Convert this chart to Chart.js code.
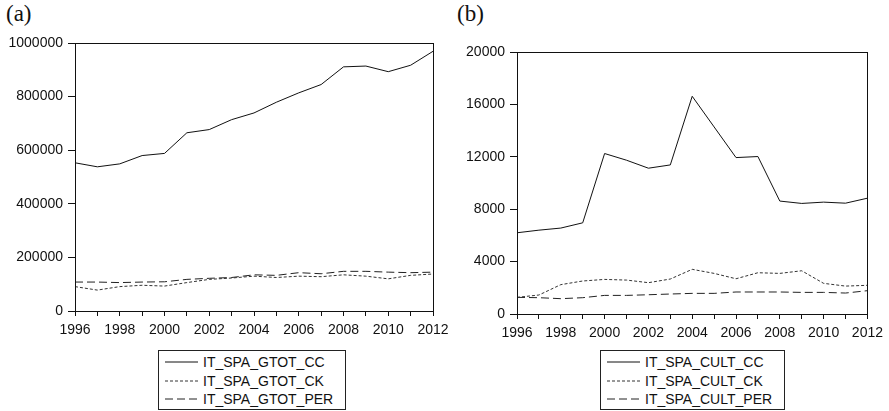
<!DOCTYPE html>
<html>
<head>
<meta charset="utf-8">
<script src="https://cdn.jsdelivr.net/npm/chart.js@4.4.0/dist/chart.umd.min.js"></script>
<style>
  body { margin: 0; background: #fff; width: 889px; height: 411px; overflow: hidden; position: relative; }
  .panel { position: absolute; top: 0; height: 345px; }
  .tag { position: absolute; top: 1px; font-family: "Liberation Serif", "DejaVu Serif", serif; font-size: 23px; color: #111; }
  .legend { position: absolute; top: 350px; border: 1px solid #222; padding: 2px 0 1px 6px; box-sizing: border-box; height: 60px;
            font-family: "Liberation Sans", Arial, sans-serif; font-size: 14px; color: #111; }
  .legend div { height: 18.5px; line-height: 18.5px; white-space: nowrap; }
  .legend svg { vertical-align: middle; margin-right: 5px; position: relative; top: -1px; }
</style>
</head>
<body>
<div class="tag" style="left:6px">(a)</div>
<div class="tag" style="left:457px">(b)</div>
<div class="panel" style="left:0; width:460px"><canvas id="graficaA"></canvas></div>
<div class="panel" style="left:445px; width:444px"><canvas id="graficaB"></canvas></div>
<div class="legend" id="leyendaA" style="left:158px; width:188px"></div>
<div class="legend" id="leyendaB" style="left:600px; width:185px"></div>
<script>
// Años (eje x)
const anios = ['1996','1997','1998','1999','2000','2001','2002','2003','2004','2005','2006','2007','2008','2009','2010','2011','2012'];

// (a) gasto total
const gtotCC  = [553000, 538000, 549000, 580000, 588000, 665000, 677000, 714000, 739000, 779000, 814000, 845000, 911000, 914000, 893000, 917000, 969000];
const gtotCK  = [91000, 78000, 91000, 96000, 93000, 106000, 118000, 123000, 130000, 125000, 130000, 128000, 135000, 130000, 120000, 133000, 138000];
const gtotPER = [108000, 108000, 106000, 108000, 109000, 118000, 122000, 125000, 135000, 133000, 143000, 139000, 148000, 148000, 145000, 143000, 145000];
const ticksA  = [0, 200000, 400000, 600000, 800000, 1000000];

// (b) cultura
const cultCC  = [6200, 6400, 6560, 6960, 12250, 11740, 11130, 11380, 16620, 14280, 11940, 12020, 8620, 8440, 8540, 8460, 8840];
const cultCK  = [1270, 1450, 2240, 2520, 2640, 2590, 2390, 2670, 3410, 3100, 2690, 3150, 3100, 3300, 2340, 2130, 2190];
const cultPER = [1270, 1245, 1170, 1245, 1420, 1420, 1470, 1525, 1575, 1575, 1680, 1680, 1680, 1650, 1650, 1600, 1780];
const ticksB  = [0, 4000, 8000, 12000, 16000, 20000];

const fuente = { family: '"Liberation Sans", Arial, sans-serif', size: 14 };
const negro = '#111';

// estilos de línea
const estilos = [
  { dash: [], color: '#111' },
  { dash: [3, 2], color: '#333' },
  { dash: [8, 4], color: '#222' }
];

// marco completo alrededor del área de trazado
const marco = {
  id: 'marco',
  afterDatasetsDraw(chart) {
    const a = chart.chartArea, ctx = chart.ctx;
    ctx.save();
    ctx.strokeStyle = negro;
    ctx.lineWidth = 1;
    ctx.strokeRect(Math.round(a.left) + 0.5, Math.round(a.top) + 0.5, Math.round(a.right - a.left), Math.round(a.bottom - a.top));
    ctx.restore();
  }
};

function grafica(id, etiquetas, series, ticks, caja) {
  const ctx = document.getElementById(id).getContext('2d');
  return new Chart(ctx, {
    type: 'line',
    data: {
      labels: anios,
      datasets: series.map((s, i) => ({
        label: etiquetas[i],
        data: s,
        borderColor: estilos[i].color,
        borderDash: estilos[i].dash,
        borderWidth: 1,
        pointRadius: 0,
        tension: 0,
        fill: false
      }))
    },
    options: {
      responsive: true,
      maintainAspectRatio: false,
      animation: false,
      layout: { padding: { top: caja.top, right: caja.right, left: 0, bottom: 0 } },
      plugins: { legend: { display: false }, tooltip: { enabled: false } },
      scales: {
        x: {
          afterFit: sc => { sc.height = caja.xh; },
          border: { display: false },
          grid: { drawOnChartArea: false, drawTicks: true, tickLength: 5, color: negro },
          ticks: {
            autoSkip: false, maxRotation: 0, padding: 6, color: negro, font: fuente,
            callback: function(v, i) { return i % 2 === 0 ? anios[i] : ''; }
          }
        },
        y: {
          min: 0, max: ticks[ticks.length - 1],
          afterFit: sc => { sc.width = caja.yw; },
          afterBuildTicks: sc => { sc.ticks = ticks.map(v => ({ value: v })); },
          border: { display: false },
          grid: { drawOnChartArea: false, drawTicks: true, tickLength: 7, color: negro },
          ticks: { padding: 5, color: negro, font: fuente, callback: v => String(v) }
        }
      }
    },
    plugins: [marco]
  });
}

const etiqA = ['IT_SPA_GTOT_CC', 'IT_SPA_GTOT_CK', 'IT_SPA_GTOT_PER'];
const etiqB = ['IT_SPA_CULT_CC', 'IT_SPA_CULT_CK', 'IT_SPA_CULT_PER'];

grafica('graficaA', etiqA, [gtotCC, gtotCK, gtotPER], ticksA, { top: 43, right: 27, yw: 75, xh: 34 });
grafica('graficaB', etiqB, [cultCC, cultCK, cultPER], ticksB, { top: 52, right: 21, yw: 72, xh: 31 });

// leyendas en recuadro
function leyenda(id, etiquetas) {
  const cont = document.getElementById(id);
  etiquetas.forEach((t, i) => {
    const fila = document.createElement('div');
    const dash = estilos[i].dash.length ? estilos[i].dash.join(' ') : 'none';
    fila.innerHTML = '<svg width="33" height="4"><line x1="0" y1="2" x2="33" y2="2" stroke="' + estilos[i].color +
      '" stroke-width="1" stroke-dasharray="' + dash + '"/></svg>';
    fila.appendChild(document.createTextNode(t));
    cont.appendChild(fila);
  });
}
leyenda('leyendaA', etiqA);
leyenda('leyendaB', etiqB);
</script>
</body>
</html>
